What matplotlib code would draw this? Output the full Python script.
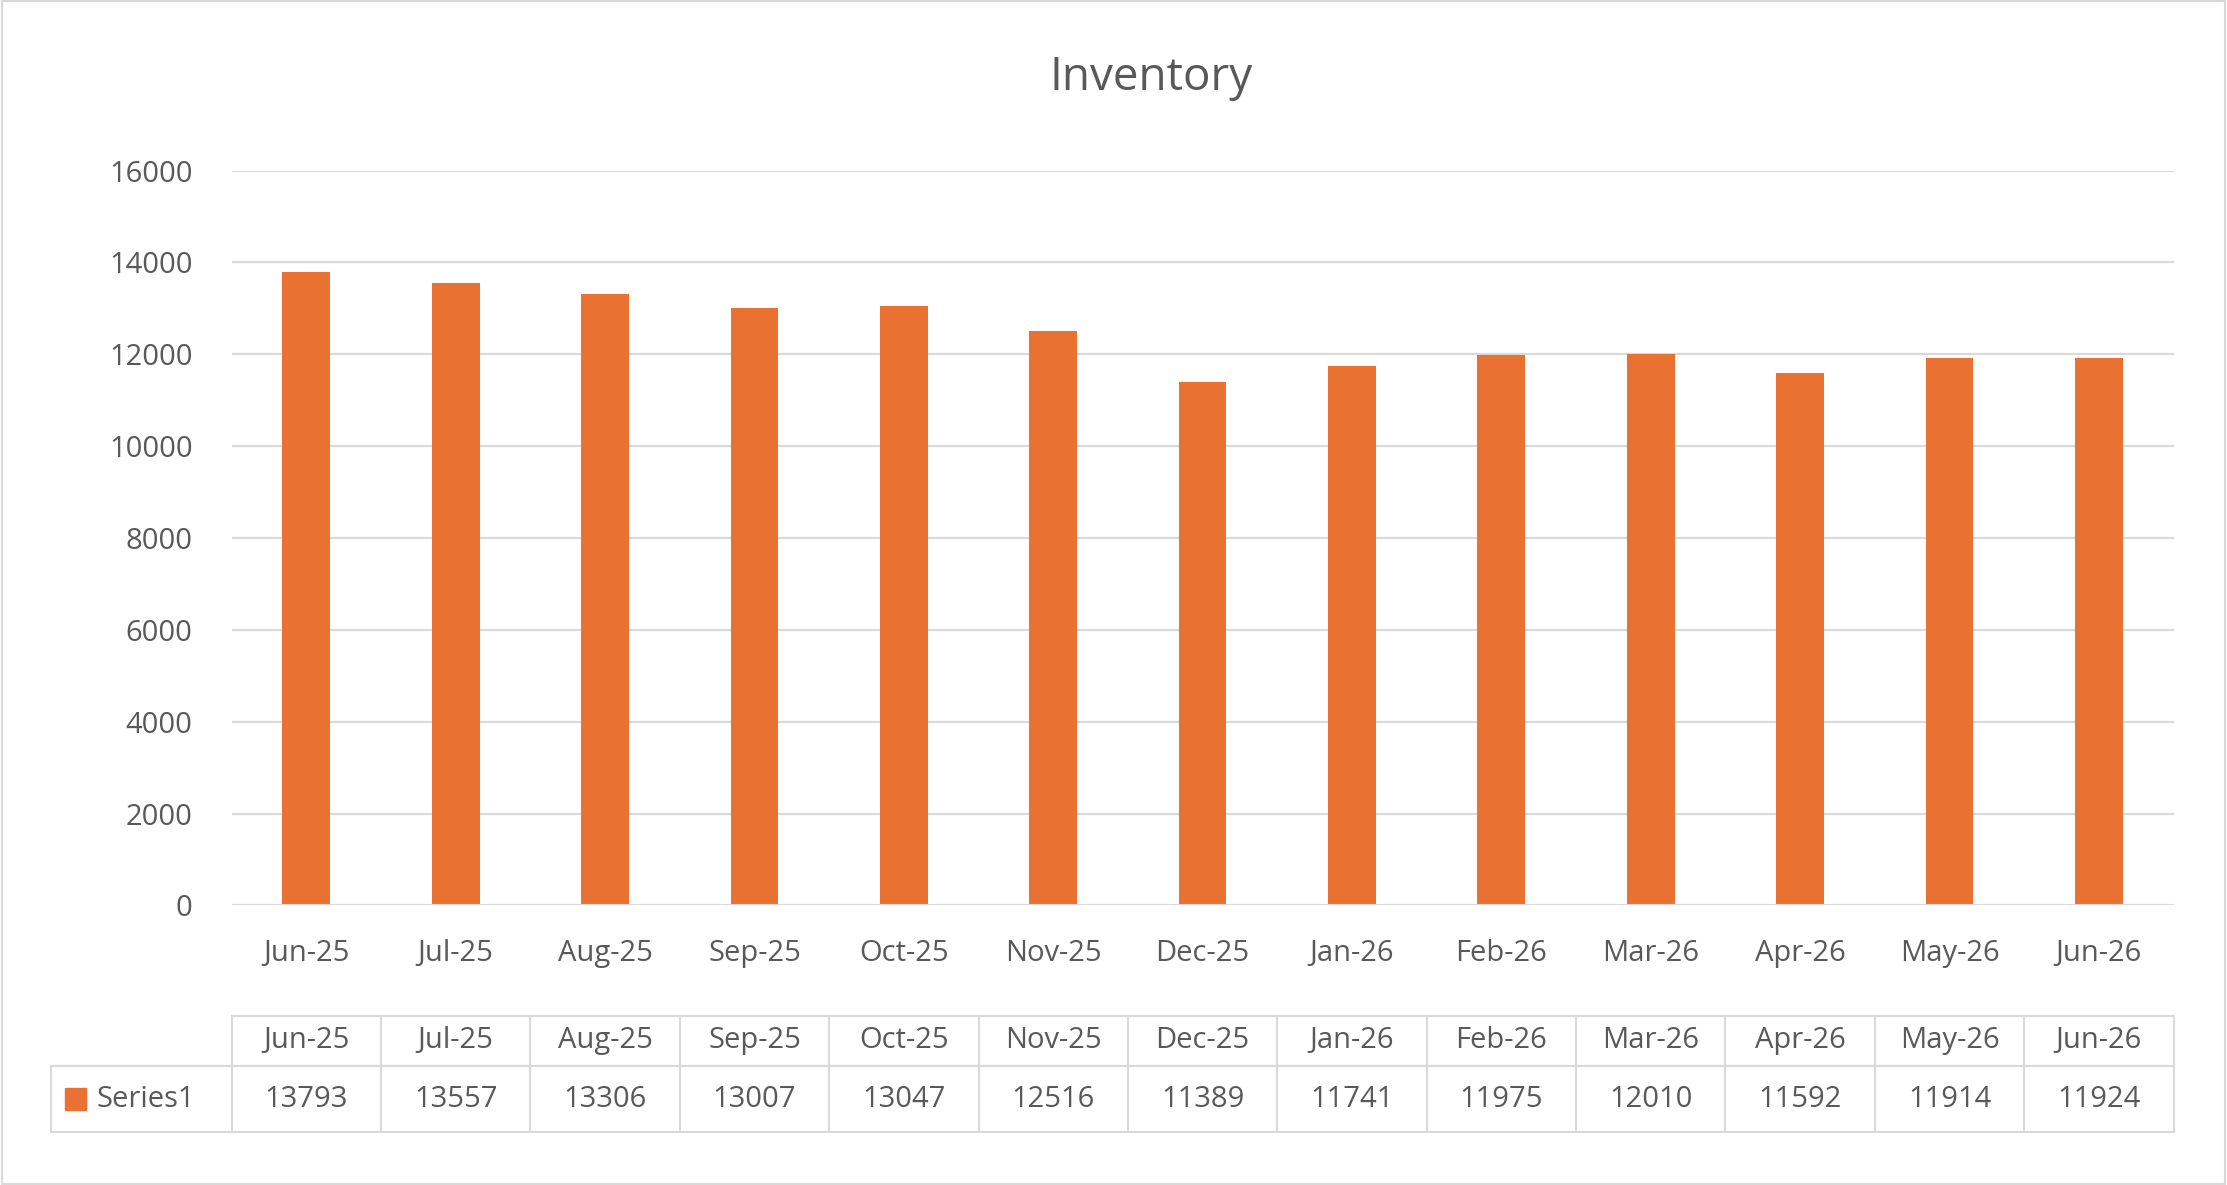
import matplotlib
matplotlib.use("Agg")
import matplotlib.pyplot as plt
import matplotlib.transforms as mtransforms
from matplotlib.patches import Rectangle

categories = ["Jun-25","Jul-25","Aug-25","Sep-25","Oct-25","Nov-25","Dec-25",
              "Jan-26","Feb-26","Mar-26","Apr-26","May-26","Jun-26"]
values = [13793,13557,13306,13007,13047,12516,11389,11741,11975,12010,11592,11914,11924]
series_name = "Series1"
yticks = [0,2000,4000,6000,8000,10000,12000,14000,16000]

plt.rcParams['font.family'] = ['Open Sans', 'DejaVu Sans']
tc = "#595959"; gc = "#d9d9d9"; bc = "#E97132"
fs = 21

fig = plt.figure(figsize=(22.27, 11.85), dpi=100)
fig.add_artist(Rectangle((0.001,0.001),0.998,0.998,transform=fig.transFigure,fill=False,ec=gc,lw=1.5))
ax = fig.add_axes([0.104, 0.236, 0.872, 0.620])
n = len(categories)
x = list(range(n))
ax.bar(x, values, width=0.32, color=bc, zorder=3)
ax.set_xlim(-0.5, n-0.5)
ax.set_ylim(0, 16000)
ax.set_yticks(yticks)
ax.set_yticklabels([str(v) for v in yticks], fontsize=fs, color=tc)
ax.yaxis.grid(True, color=gc, lw=1.5, zorder=0)
for s in ax.spines.values():
    s.set_visible(False)
ax.axhline(0, color=gc, lw=1.5, zorder=4)
ax.tick_params(axis='y', length=0, pad=28)
ax.set_xticks(x)
ax.set_xticklabels(categories, fontsize=fs, color=tc)
ax.tick_params(axis='x', length=0, pad=24)
fig.text(0.517, 0.934, "Inventory", ha='center', va='center', fontsize=33, color=tc)

tr = mtransforms.blended_transform_factory(ax.transData, fig.transFigure)
y_top = 1-715/834; y_mid = 1-750/834; y_bot = 1-797/834
kw = dict(transform=tr, color=gc, lw=1.5, clip_on=False)
ax.plot([-0.5, n-0.5], [y_top, y_top], **kw)
ax.plot([-0.5, n-0.5], [y_mid, y_mid], **kw)
ax.plot([-0.5, n-0.5], [y_bot, y_bot], **kw)
for i in range(n+1):
    ax.plot([i-0.5, i-0.5], [y_top, y_bot], **kw)
x0 = 36/1568; x1 = 0.104
fig.add_artist(plt.Line2D([x0, x1], [y_mid, y_mid], color=gc, lw=1.5))
fig.add_artist(plt.Line2D([x0, x1], [y_bot, y_bot], color=gc, lw=1.5))
fig.add_artist(plt.Line2D([x0, x0], [y_mid, y_bot], color=gc, lw=1.5))
for i in range(n):
    ax.text(i, (y_top+y_mid)/2, categories[i], transform=tr, ha='center', va='center', fontsize=fs, color=tc)
    ax.text(i, (y_mid+y_bot)/2, str(values[i]), transform=tr, ha='center', va='center', fontsize=fs, color=tc)
ym = (y_mid+y_bot)/2
fig.add_artist(Rectangle((46/1568, ym-0.009), 0.0095, 0.018, transform=fig.transFigure, color=bc))
fig.text(68/1568, ym, series_name, ha='left', va='center', fontsize=fs, color=tc)
fig.savefig("out.png", dpi=100)
